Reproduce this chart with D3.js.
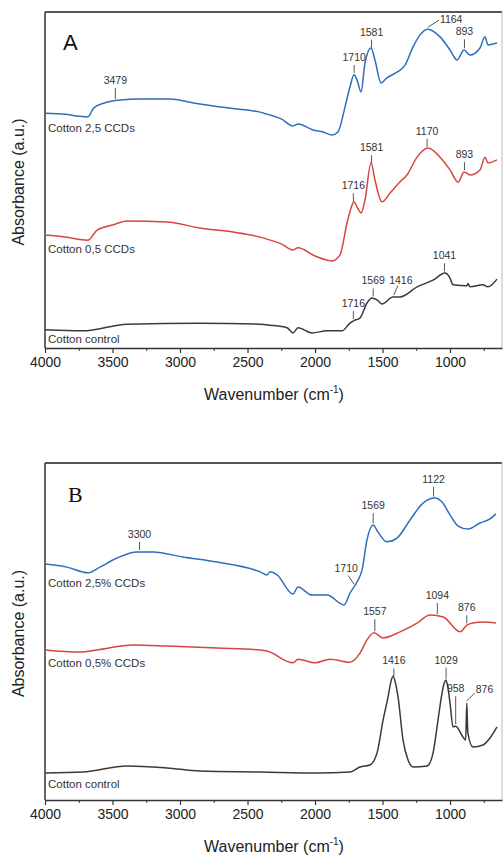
<!DOCTYPE html>
<html>
<head>
<script src="https://d3js.org/d3.v7.min.js"></script>
<style>
  body { margin: 0; background: #fff; }
  svg { display: block; font-family: Arial, "Liberation Sans", sans-serif; }
</style>
</head>
<body>
<svg id="chart" width="503" height="855"></svg>
<script>
// spectra: [wavenumber cm-1, stacked absorbance a.u.]
const aCotton25 = [[4000,69.9],[3850,69.6],[3750,69.0],[3681,68.8],[3640,71.4],[3560,72.9],[3444,73.8],[3300,74.1],[3074,74.1],[2900,72.9],[2700,71.7],[2500,70.8],[2407,70.2],[2356,69.6],[2250,68.2],[2163,66.1],[2126,66.7],[2015,64.9],[1940,64.3],[1874,63.4],[1830,64.3],[1778,71.7],[1741,77.7],[1711,81.3],[1689,79.8],[1659,76.2],[1630,84.8],[1585,89.3],[1556,85.7],[1511,78.9],[1467,80.4],[1393,82.1],[1333,84.2],[1274,89.6],[1222,93.2],[1163,94.9],[1074,92.6],[1000,88.7],[948,85.7],[896,88.7],[852,87.2],[778,89.3],[741,92.6],[719,90.2],[680,90.5],[652,90.8]];
const aCotton05 = [[4000,33.6],[3850,33.0],[3681,32.1],[3614,35.1],[3500,36.6],[3392,37.8],[3096,37.5],[2852,35.7],[2607,34.5],[2407,33.0],[2356,32.4],[2250,31.0],[2163,29.2],[2126,29.8],[2000,27.4],[1874,25.9],[1815,27.7],[1763,37.2],[1733,41.7],[1711,43.5],[1689,42.0],[1659,40.2],[1630,44.0],[1585,55.1],[1556,50.0],[1504,43.5],[1444,46.1],[1370,49.5],[1319,51.5],[1244,56.8],[1163,59.5],[1074,56.8],[1000,53.0],[940,49.4],[896,52.4],[852,51.5],[778,53.0],[741,56.8],[719,55.1],[652,56.0]];
const aControl = [[4000,5.4],[3719,5.1],[3392,7.1],[2852,7.4],[2407,7.1],[2333,6.8],[2207,6.0],[2163,4.5],[2126,6.0],[2022,4.5],[1911,5.1],[1800,5.1],[1741,7.4],[1704,8.3],[1667,8.9],[1615,13.4],[1578,14.9],[1541,14.3],[1504,13.1],[1422,15.2],[1370,15.2],[1244,18.2],[1126,20.2],[1037,22.3],[1000,20.8],[978,18.8],[874,18.5],[867,19.2],[852,18.2],[756,18.8],[719,18.2],[652,20.5]];

const bCotton25 = [[4000,70.0],[3837,69.1],[3681,67.4],[3593,69.1],[3467,71.8],[3319,73.6],[3200,73.6],[2978,72.1],[2726,70.6],[2407,67.7],[2356,66.8],[2333,67.7],[2281,66.8],[2163,61.1],[2126,63.2],[2022,60.8],[1911,60.8],[1785,57.9],[1741,61.4],[1689,64.7],[1652,68.2],[1615,77.2],[1570,81.6],[1533,79.5],[1467,76.6],[1393,77.7],[1296,83.1],[1200,88.1],[1111,89.6],[1059,88.4],[1000,84.6],[940,81.3],[867,80.4],[778,82.2],[704,83.4],[660,84.9]];
const bCotton05 = [[4000,44.5],[3741,43.9],[3614,44.5],[3348,46.0],[3096,45.7],[2726,45.1],[2407,44.5],[2356,44.2],[2163,40.7],[2126,41.8],[2000,40.7],[1889,41.8],[1741,40.9],[1667,43.6],[1615,47.5],[1563,49.6],[1496,48.1],[1370,49.9],[1244,52.5],[1148,54.9],[1050,54.3],[926,49.9],[874,51.9],[830,52.5],[756,52.8],[660,52.5]];
const bControl = [[4000,8.0],[3719,8.3],[3392,10.1],[3096,9.5],[2852,8.6],[2407,8.3],[1985,8.0],[1741,8.3],[1667,9.8],[1593,10.4],[1541,13.9],[1496,23.7],[1459,30.6],[1440,34.7],[1422,36.8],[1404,34.7],[1385,30.6],[1348,17.8],[1311,11.9],[1274,9.8],[1170,10.1],[1126,13.9],[1089,23.7],[1059,31.8],[1045,34.4],[1030,35.6],[1015,33.2],[1000,28.8],[978,21.7],[958,21.9],[904,18.7],[884,17.8],[876,28.8],[868,19.9],[830,15.7],[756,16.3],[704,18.4],[652,21.7]];

// marked band positions
const peaksA25 = [3479, 1710, 1581, 1164, 893];
const peaksA05 = [1716, 1581, 1170, 893];
const peaksAControl = [1716, 1569, 1416, 1041];
const peaksB25 = [3300, 1710, 1569, 1122];
const peaksB05 = [1557, 1094, 876];
const peaksBControl = [1416, 1029, 958, 876];

const majorTicks = [4000, 3500, 3000, 2500, 2000, 1500, 1000];
const minorTicks = [3750, 3250, 2750, 2250, 1750, 1250, 750];

// leader tweaks (layout only)
const leaders = {
  "A0-3479": {len: 11}, "A0-893": {len: 9},
  "A0-1164": {len: 7, dx: 11, tx: 1, ty: 3, anchor: "start"},
  "A2-1416": {len: 9, dx: 4, tx: 3, ty: -2, anchor: "middle"},
  "B0-1569": {len: 10}, "B0-1122": {len: 10},
  "B0-1710": {len: 9, dx: -6, tx: -2, ty: -3, anchor: "middle"},
  "B1-1557": {len: 12}, "B1-1094": {len: 11},
  "B2-1029": {len: 11}, "B2-958": {len: 28},
  "B2-876": {len: 8, dx: 8, tx: 1, ty: 0, anchor: "start"}
};

const blue = "#2f6dbf", red = "#d8453f", dark = "#3a3a3a";

const panels = [
  {key: "A", top: 12, bottom: 348, letterFont: "Arial, sans-serif", letterX: 63, letterY: 50,
   series: [
     {name: "Cotton 2,5 CCDs", data: aCotton25, color: blue, peaks: peaksA25, labelDy: 19},
     {name: "Cotton 0,5 CCDs", data: aCotton05, color: red, peaks: peaksA05, labelDy: 18},
     {name: "Cotton control", data: aControl, color: dark, peaks: peaksAControl, labelDy: 13}
   ]},
  {key: "B", top: 463, bottom: 800, letterFont: "'Liberation Serif', 'DejaVu Serif', serif", letterX: 68, letterY: 502,
   series: [
     {name: "Cotton 2,5% CCDs", data: bCotton25, color: blue, peaks: peaksB25, labelDy: 23},
     {name: "Cotton 0,5% CCDs", data: bCotton05, color: red, peaks: peaksB05, labelDy: 17},
     {name: "Cotton control", data: bControl, color: dark, peaks: peaksBControl, labelDy: 15}
   ]}
];

const left = 45, right = 502;
const svg = d3.select("#chart");

const x = d3.scaleLinear().domain([4000, 615]).range([left, right]);

// linear interpolation of a spectrum at a wavenumber
function valueAt(data, wn) {
  for (let i = 0; i < data.length - 1; i++) {
    const a = data[i], b = data[i + 1];
    if (wn <= a[0] && wn >= b[0]) {
      const t = (a[0] - wn) / (a[0] - b[0]);
      return a[1] + t * (b[1] - a[1]);
    }
  }
  return data[data.length - 1][1];
}

panels.forEach(p => {
  const y = d3.scaleLinear().domain([0, 100]).range([p.bottom, p.top]);
  const g = svg.append("g");

  // frame
  g.append("line").attr("x1", left).attr("x2", right).attr("y1", p.top).attr("y2", p.top)
    .attr("stroke", "#555").attr("stroke-width", 2);
  g.append("line").attr("x1", right).attr("x2", right).attr("y1", p.top).attr("y2", p.bottom)
    .attr("stroke", "#bbb").attr("stroke-width", 1);
  g.append("line").attr("x1", left).attr("x2", left).attr("y1", p.top).attr("y2", p.bottom)
    .attr("stroke", "#333").attr("stroke-width", 1.5);

  // x axis
  const ax = g.append("g").attr("transform", `translate(0,${p.bottom})`)
    .call(d3.axisBottom(x).tickValues(majorTicks).tickSize(5).tickSizeOuter(0).tickPadding(4).tickFormat(d3.format("d")));
  ax.select(".domain").attr("stroke", "#333").attr("stroke-width", 1.5);
  ax.selectAll(".tick line").attr("stroke", "#333").attr("stroke-width", 1.2);
  ax.selectAll(".tick text").attr("font-size", 14).attr("fill", "#222")
    .attr("font-family", "Arial, 'Liberation Sans', sans-serif");
  const minor = g.append("g").attr("transform", `translate(0,${p.bottom})`)
    .call(d3.axisBottom(x).tickValues(minorTicks).tickSize(3).tickFormat(""));
  minor.select(".domain").remove();
  minor.selectAll(".tick line").attr("stroke", "#333");

  // axis titles
  const xt = g.append("text").attr("x", 274).attr("y", p.bottom + 52)
    .attr("text-anchor", "middle").attr("font-size", 16).attr("fill", "#222");
  xt.append("tspan").text("Wavenumber (cm");
  xt.append("tspan").attr("font-size", 10).attr("dy", -7).text("-1");
  xt.append("tspan").attr("dy", 7).text(")");

  g.append("text")
    .attr("transform", `translate(24,${(p.top + p.bottom) / 2 + 2}) rotate(-90)`)
    .attr("text-anchor", "middle").attr("font-size", 16).attr("fill", "#222")
    .text("Absorbance (a.u.)");

  g.append("text").attr("x", p.letterX).attr("y", p.letterY)
    .attr("font-family", p.letterFont).attr("font-size", 22).attr("fill", "#111")
    .text(p.key);

  const line = d3.line().x(d => x(d[0])).y(d => y(d[1])).curve(d3.curveMonotoneX);

  p.series.forEach((s, si) => {
    g.append("path").datum(s.data)
      .attr("fill", "none").attr("stroke", s.color).attr("stroke-width", 1.5)
      .attr("stroke-linejoin", "round").attr("d", line);

    g.append("text").attr("x", 48).attr("y", y(s.data[0][1]) + s.labelDy)
      .attr("font-size", 11.5).attr("fill", "#333").text(s.name);

    s.peaks.forEach(wn => {
      const opt = Object.assign({len: 8, dx: 0, tx: 0, ty: -4, anchor: "middle"},
        leaders[`${p.key}${si}-${wn}`] || {});
      const bx = x(wn), by = y(valueAt(s.data, wn)) - 2;
      const tx = bx + opt.dx, ty = by - opt.len;
      g.append("line").attr("x1", bx).attr("y1", by).attr("x2", tx).attr("y2", ty)
        .attr("stroke", "#555").attr("stroke-width", 1);
      g.append("text").attr("x", tx + opt.tx).attr("y", ty + opt.ty)
        .attr("text-anchor", opt.anchor).attr("font-size", 10.5).attr("fill", "#333")
        .text(wn);
    });
  });
});
</script>
</body>
</html>
